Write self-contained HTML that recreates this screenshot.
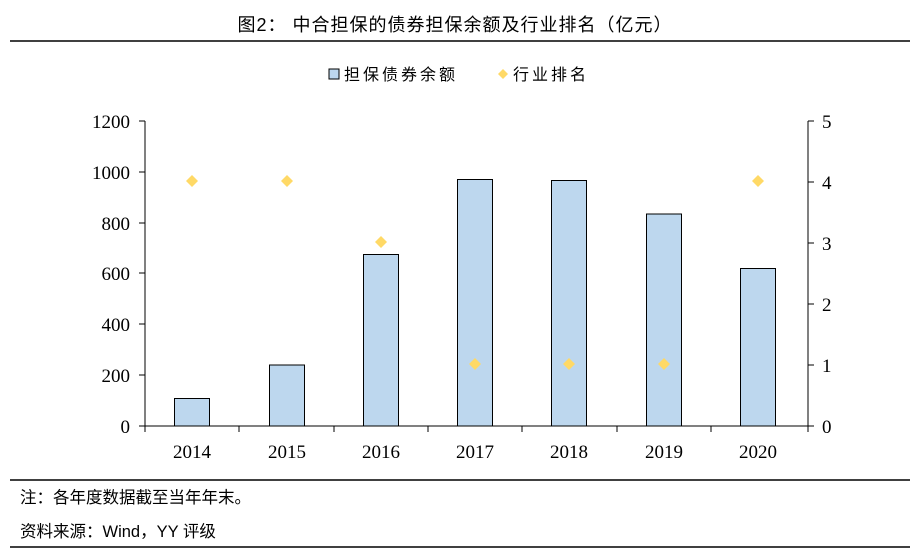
<!DOCTYPE html>
<html><head><meta charset="utf-8"><style>
body{margin:0;background:#fff;width:920px;height:552px;overflow:hidden;font-family:"Liberation Sans","Noto Sans CJK SC",sans-serif;}
</style></head><body>
<svg width="920" height="552" xmlns="http://www.w3.org/2000/svg" style="position:absolute;left:0;top:0">
<text x="455" y="31" text-anchor="middle" font-size="18" letter-spacing="1" font-family="Liberation Sans, Noto Sans CJK SC, sans-serif" fill="#000">图2：  中合担保的债券担保余额及行业排名（亿元）</text>
<line x1="10" y1="41" x2="910" y2="41" stroke="#000" stroke-width="1.5"/>
<!-- legend -->
<rect x="329" y="69" width="10" height="10" fill="#bdd7ee" stroke="#000" stroke-width="1"/>
<text x="344" y="80" font-size="16" font-family="Liberation Sans, Noto Sans CJK SC, sans-serif" letter-spacing="3">担保债券余额</text>
<polygon points="503,69 508,74 503,79 498,74" fill="#ffd966"/>
<text x="513" y="80" font-size="16" font-family="Liberation Sans, Noto Sans CJK SC, sans-serif" letter-spacing="3">行业排名</text>
<!-- axes -->
<g stroke="#000" stroke-width="1">
<line x1="145" y1="121" x2="145" y2="426"/>
<line x1="808" y1="121" x2="808" y2="426"/>
<line x1="145" y1="426" x2="808" y2="426"/>
<line x1="139" y1="121" x2="145" y2="121"/><line x1="139" y1="172" x2="145" y2="172"/><line x1="139" y1="223" x2="145" y2="223"/><line x1="139" y1="273" x2="145" y2="273"/><line x1="139" y1="324" x2="145" y2="324"/><line x1="139" y1="375" x2="145" y2="375"/><line x1="139" y1="426" x2="145" y2="426"/>
<line x1="808" y1="121" x2="814" y2="121"/><line x1="808" y1="182" x2="814" y2="182"/><line x1="808" y1="243" x2="814" y2="243"/><line x1="808" y1="304" x2="814" y2="304"/><line x1="808" y1="365" x2="814" y2="365"/><line x1="808" y1="426" x2="814" y2="426"/>
<line x1="239" y1="426" x2="239" y2="432"/><line x1="334" y1="426" x2="334" y2="432"/><line x1="428" y1="426" x2="428" y2="432"/><line x1="522" y1="426" x2="522" y2="432"/><line x1="617" y1="426" x2="617" y2="432"/><line x1="711" y1="426" x2="711" y2="432"/><line x1="145" y1="426" x2="145" y2="432"/><line x1="808" y1="426" x2="808" y2="432"/>
</g>
<g font-family="Liberation Serif, serif" font-size="19" fill="#000" text-anchor="end">
<text x="130" y="128">1200</text><text x="130" y="179">1000</text><text x="130" y="230">800</text><text x="130" y="280">600</text><text x="130" y="331">400</text><text x="130" y="382">200</text><text x="130" y="433">0</text>
</g>
<g font-family="Liberation Serif, serif" font-size="19" fill="#000">
<text x="822" y="128">5</text><text x="822" y="189">4</text><text x="822" y="250">3</text><text x="822" y="311">2</text><text x="822" y="372">1</text><text x="822" y="433">0</text>
</g>
<g font-family="Liberation Serif, serif" font-size="19" fill="#000" text-anchor="middle">
<text x="192" y="458">2014</text><text x="287" y="458">2015</text><text x="381" y="458">2016</text><text x="475" y="458">2017</text><text x="569" y="458">2018</text><text x="664" y="458">2019</text><text x="758" y="458">2020</text>
</g>
<g fill="#bdd7ee" stroke="#000" stroke-width="1">
<rect x="174.5" y="398.5" width="35" height="27.5"/>
<rect x="269.5" y="365" width="35" height="61"/>
<rect x="363.5" y="254.5" width="35" height="171.5"/>
<rect x="457.5" y="179.5" width="35" height="246.5"/>
<rect x="551.5" y="180.5" width="35" height="245.5"/>
<rect x="646.5" y="214" width="35" height="212"/>
<rect x="740.5" y="268.5" width="35" height="157.5"/>
</g>
<g fill="#ffd966">
<polygon points="192,175 198,181 192,187 186,181"/>
<polygon points="287,175 293,181 287,187 281,181"/>
<polygon points="381,236 387,242 381,248 375,242"/>
<polygon points="475,358 481,364 475,370 469,364"/>
<polygon points="569,358 575,364 569,370 563,364"/>
<polygon points="664,358 670,364 664,370 658,364"/>
<polygon points="758,175 764,181 758,187 752,181"/>
</g>
<line x1="10" y1="480" x2="910" y2="480" stroke="#000" stroke-width="1.5"/>
<text x="20" y="503" font-size="16.5" font-family="Liberation Sans, Noto Sans CJK SC, sans-serif">注：各年度数据截至当年年末。</text>
<text x="20" y="537" font-size="16.5" font-family="Liberation Sans, Noto Sans CJK SC, sans-serif">资料来源：Wind，YY 评级</text>
<line x1="10" y1="547" x2="910" y2="547" stroke="#000" stroke-width="1.5"/>
</svg>
</body></html>
